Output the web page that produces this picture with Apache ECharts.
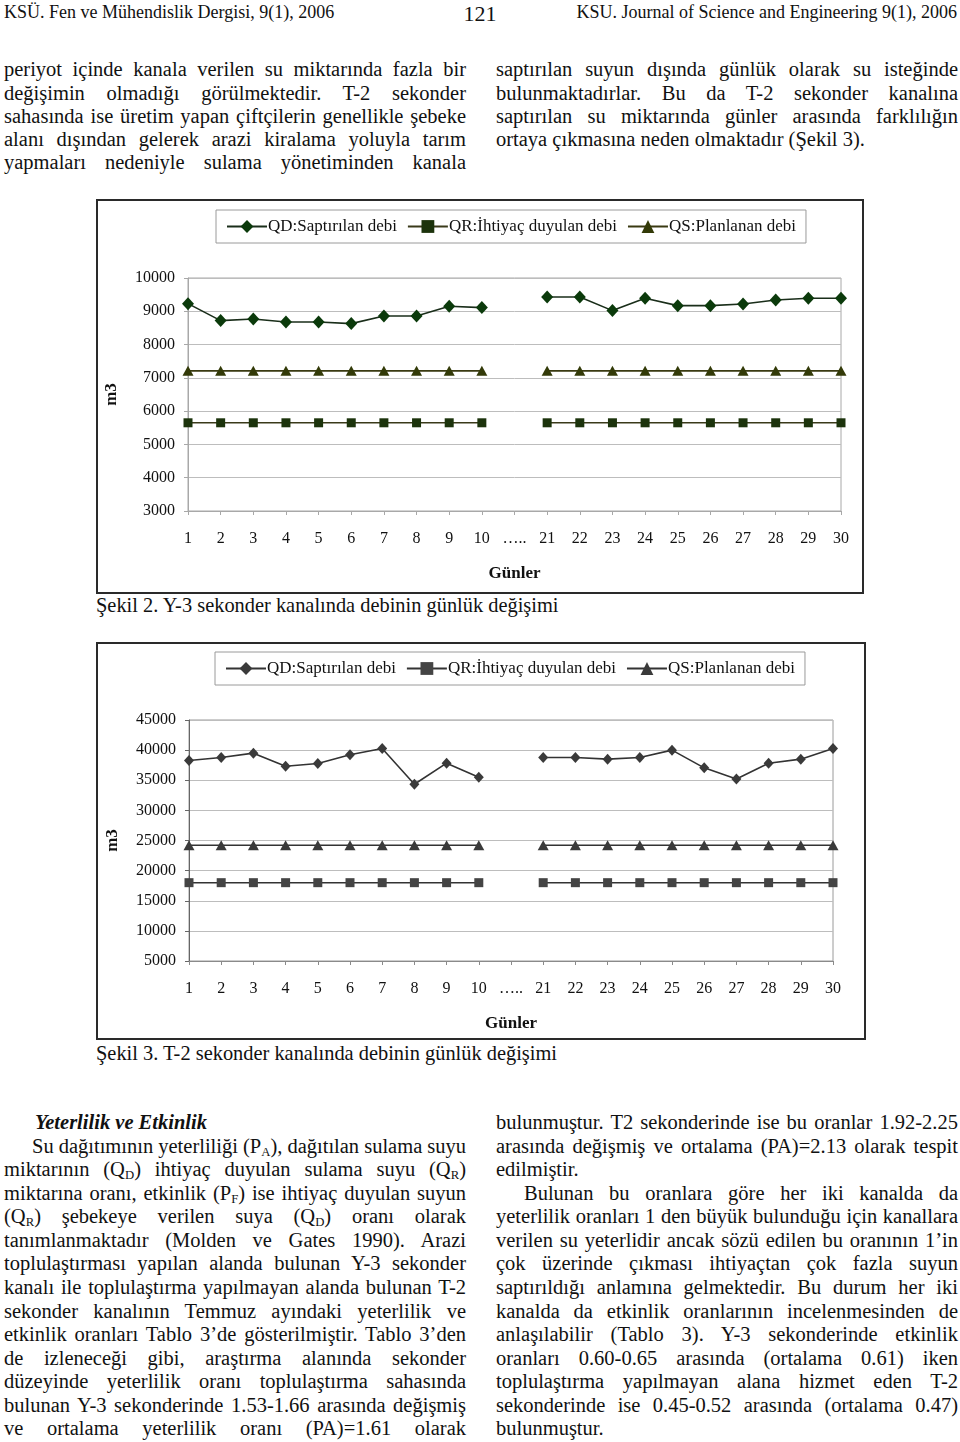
<!DOCTYPE html>
<html>
<head>
<meta charset="utf-8">
<script src="https://cdn.jsdelivr.net/npm/echarts@6/dist/echarts.min.js"></script>
<style>
  html, body { margin:0; padding:0; background:#fff; }
  body { width:960px; height:1442px; position:relative; overflow:hidden;
         font-family:'Liberation Serif','Times New Roman',serif; color:#111; }
  .ln { position:absolute; white-space:nowrap; font-size:20.5px; line-height:23.5px; }
  .ln sub { font-size:0.62em; vertical-align:-0.25em; line-height:0; }
  .hd { position:absolute; white-space:nowrap; font-size:18px; line-height:22px; }
  .frame { position:absolute; border:2px solid #2a2a2a; box-sizing:border-box; }
  .chart { position:absolute; }
  .cap { position:absolute; white-space:nowrap; font-size:20.4px; line-height:24px; }
</style>
</head>
<body>
<div class="hd" style="left:4px;top:1px;">KSÜ. Fen ve Mühendislik Dergisi, 9(1), 2006</div>
<div class="hd" style="left:440px;width:80px;text-align:center;top:1px;font-size:22px;line-height:26px;">121</div>
<div class="hd" style="right:3px;top:1px;">KSU. Journal of Science and Engineering 9(1), 2006</div>

<div id="text"></div>

<div class="frame" style="left:96px;top:199px;width:768px;height:395px;"></div>
<div id="c1" class="chart" style="left:98px;top:201px;width:764px;height:391px;"></div>
<div class="cap" style="left:96px;top:593px;">Şekil 2. Y-3 sekonder kanalında debinin günlük değişimi</div>

<div class="frame" style="left:96px;top:642px;width:770px;height:398px;"></div>
<div id="c2" class="chart" style="left:98px;top:644px;width:766px;height:394px;"></div>
<div class="cap" style="left:96px;top:1041px;">Şekil 3. T-2 sekonder kanalında debinin günlük değişimi</div>

<script>
// ---------------- DATA ----------------
const categories = ['1','2','3','4','5','6','7','8','9','10','…..','21','22','23','24','25','26','27','28','29','30'];
const seriesNames = ['QD:Saptırılan debi', 'QR:İhtiyaç duyulan debi', 'QS:Planlanan debi'];

// Şekil 2 (Y-3)
const qd1 = [9230, 8720, 8770, 8680, 8680, 8630, 8860, 8860, 9150, 9110, null, 9430, 9430, 9020, 9390, 9170, 9170, 9220, 9340, 9390, 9390];
const qr1 = [5650, 5650, 5650, 5650, 5650, 5650, 5650, 5650, 5650, 5650, null, 5650, 5650, 5650, 5650, 5650, 5650, 5650, 5650, 5650, 5650];
const qs1 = [7210, 7210, 7210, 7210, 7210, 7210, 7210, 7210, 7210, 7210, null, 7210, 7210, 7210, 7210, 7210, 7210, 7210, 7210, 7210, 7210];
const yTicks1 = { min: 3000, max: 10000, interval: 1000 };

// Şekil 3 (T-2)
const qd2 = [38280, 38780, 39500, 37330, 37780, 39220, 40280, 34330, 37830, 35500, null, 38780, 38780, 38500, 38780, 40000, 37060, 35220, 37830, 38500, 40280];
const qr2 = [18000, 18000, 18000, 18000, 18000, 18000, 18000, 18000, 18000, 18000, null, 18000, 18000, 18000, 18000, 18000, 18000, 18000, 18000, 18000, 18000];
const qs2 = [24220, 24220, 24220, 24220, 24220, 24220, 24220, 24220, 24220, 24220, null, 24220, 24220, 24220, 24220, 24220, 24220, 24220, 24220, 24220, 24220];
const yTicks2 = { min: 5000, max: 45000, interval: 5000 };

// ---------------- TEXT ----------------
const topLeft = [
  'periyot içinde kanala verilen su miktarında fazla bir',
  'değişimin olmadığı görülmektedir. T-2 sekonder',
  'sahasında ise üretim yapan çiftçilerin genellikle şebeke',
  'alanı dışından gelerek arazi kiralama yoluyla tarım',
  'yapmaları nedeniyle sulama yönetiminden kanala'
];
const topRight = [
  'saptırılan suyun dışında günlük olarak su isteğinde',
  'bulunmaktadırlar. Bu da T-2 sekonder kanalına',
  'saptırılan su miktarında günler arasında farklılığın',
  '!ortaya çıkmasına neden olmaktadır (Şekil 3).'
];
const botLeft = [
  '#<b><i>Yeterlilik ve Etkinlik</i></b>',
  '>Su dağıtımının yeterliliği (P<sub>A</sub>), dağıtılan sulama suyu',
  'miktarının (Q<sub>D</sub>) ihtiyaç duyulan sulama suyu (Q<sub>R</sub>)',
  'miktarına oranı, etkinlik (P<sub>F</sub>) ise ihtiyaç duyulan suyun',
  '(Q<sub>R</sub>) şebekeye verilen suya (Q<sub>D</sub>) oranı olarak',
  'tanımlanmaktadır (Molden ve Gates 1990). Arazi',
  'toplulaştırması yapılan alanda bulunan Y-3 sekonder',
  'kanalı ile toplulaştırma yapılmayan alanda bulunan T-2',
  'sekonder kanalının Temmuz ayındaki yeterlilik ve',
  'etkinlik oranları Tablo 3’de gösterilmiştir. Tablo 3’den',
  'de izleneceği gibi, araştırma alanında sekonder',
  'düzeyinde yeterlilik oranı toplulaştırma sahasında',
  'bulunan Y-3 sekonderinde 1.53-1.66 arasında değişmiş',
  've ortalama yeterlilik oranı (PA)=1.61 olarak'
];
const botRight = [
  'bulunmuştur. T2 sekonderinde ise bu oranlar 1.92-2.25',
  'arasında değişmiş ve ortalama (PA)=2.13 olarak tespit',
  '!edilmiştir.',
  '>Bulunan bu oranlara göre her iki kanalda da',
  'yeterlilik oranları 1 den büyük bulunduğu için kanallara',
  'verilen su yeterlidir ancak sözü edilen bu oranının 1’in',
  'çok üzerinde çıkması ihtiyaçtan çok fazla suyun',
  'saptırıldığı anlamına gelmektedir. Bu durum her iki',
  'kanalda da etkinlik oranlarının incelenmesinden de',
  'anlaşılabilir (Tablo 3). Y-3 sekonderinde etkinlik',
  'oranları 0.60-0.65 arasında (ortalama 0.61) iken',
  'toplulaştırma yapılmayan alana hizmet eden T-2',
  'sekonderinde ise 0.45-0.52 arasında (ortalama 0.47)',
  '!bulunmuştur.'
];

function placeColumn(lines, x, width, firstCenter, step) {
  const host = document.getElementById('text');
  lines.forEach((raw, i) => {
    let html = raw, justify = true, indent = 0;
    if (html[0] === '!') { html = html.slice(1); justify = false; }
    else if (html[0] === '#') { html = html.slice(1); justify = false; indent = 31; }
    else if (html[0] === '>') { html = html.slice(1); indent = 28; }
    const d = document.createElement('div');
    d.className = 'ln';
    d.innerHTML = html;
    d.style.left = (x + indent) + 'px';
    d.style.top = (firstCenter + i * step - 11.75) + 'px';
    host.appendChild(d);
    if (justify) {
      const target = width - indent;
      const natural = d.getBoundingClientRect().width;
      const spaces = (d.textContent.match(/ /g) || []).length;
      if (spaces > 0) d.style.wordSpacing = ((target - natural) / spaces) + 'px';
    }
  });
}
placeColumn(topLeft, 4, 462, 70, 23.3);
placeColumn(topRight, 496, 462, 70, 23.3);
placeColumn(botLeft, 4, 462, 1123, 23.54);
placeColumn(botRight, 496, 462, 1123, 23.54);

// ---------------- CHARTS ----------------
const FONT = "'Liberation Serif','Times New Roman',serif";

function buildOption(cfg) {
  return {
    animation: false,
    legend: {
      data: seriesNames,
      left: cfg.legendLeft, top: cfg.legendTop,
      padding: [8, 10, 8, 10],
      itemGap: 10, itemWidth: 40, itemHeight: 16,
      borderColor: '#9a9a9a', borderWidth: 1,
      textStyle: { fontFamily: FONT, fontSize: 17, color: '#111', padding: [0, 0, 0, -4] }
    },
    grid: {
      left: cfg.grid.left, top: cfg.grid.top, width: cfg.grid.width, height: cfg.grid.height,
      outerBoundsMode: 'none', containLabel: false,
      show: true, borderColor: cfg.borderColor, borderWidth: 1, backgroundColor: 'transparent'
    },
    xAxis: {
      type: 'category', data: categories, boundaryGap: false,
      name: 'Günler', nameLocation: 'middle', nameGap: 54,
      nameTextStyle: { fontFamily: FONT, fontSize: 17, fontWeight: 'bold', color: '#111' },
      axisLine: { lineStyle: { color: cfg.axisColor, width: 1 } },
      axisTick: { show: true, length: 4, lineStyle: { color: cfg.axisColor } },
      axisLabel: { fontFamily: FONT, fontSize: 16, color: '#111', margin: 20, interval: 0 },
      splitLine: { show: false }
    },
    yAxis: {
      type: 'value', min: cfg.y.min, max: cfg.y.max, interval: cfg.y.interval,
      name: 'm3', nameLocation: 'middle', nameGap: 68,
      nameTextStyle: { fontFamily: FONT, fontSize: 17, fontWeight: 'bold', color: '#111' },
      axisLine: { show: true, lineStyle: { color: cfg.yAxisColor, width: 1 } },
      axisTick: { show: true, length: 4, lineStyle: { color: cfg.yAxisColor } },
      axisLabel: { fontFamily: FONT, fontSize: 16, color: '#111', margin: 13,
                   formatter: v => String(v) },
      splitLine: { show: true, lineStyle: { color: '#bdbdbd', width: 1 } }
    },
    series: [
      { name: seriesNames[0], type: 'line', data: cfg.qd, connectNulls: false,
        symbol: 'diamond', symbolSize: cfg.dSize, showAllSymbol: true,
        itemStyle: { color: cfg.c[0] }, lineStyle: { color: cfg.l[0], width: 1.6 } },
      { name: seriesNames[1], type: 'line', data: cfg.qr, connectNulls: false,
        symbol: 'rect', symbolSize: cfg.sSize, showAllSymbol: true,
        itemStyle: { color: cfg.c[1] }, lineStyle: { color: cfg.l[1], width: 1.6 } },
      { name: seriesNames[2], type: 'line', data: cfg.qs, connectNulls: false,
        symbol: 'triangle', symbolSize: cfg.tSize, showAllSymbol: true,
        itemStyle: { color: cfg.c[2] }, lineStyle: { color: cfg.l[2], width: 1.6 } }
    ]
  };
}

const chart1 = echarts.init(document.getElementById('c1'), null, { renderer: 'canvas' });
chart1.setOption(buildOption({
  legendLeft: 118, legendTop: 9,
  grid: { left: 90, top: 77, width: 653, height: 233 },
  borderColor: '#a8a8a8', axisColor: '#a8a8a8', yAxisColor: '#a8a8a8',
  y: yTicks1, qd: qd1, qr: qr1, qs: qs1,
  dSize: [12, 13], sSize: [9, 9], tSize: [11, 10],
  c: ['#0b3a0b', '#1c330c', '#333a08'], l: ['#1a2e1a', '#3a3a1a', '#3a3a12']
}));

const chart2 = echarts.init(document.getElementById('c2'), null, { renderer: 'canvas' });
chart2.setOption(buildOption({
  legendLeft: 117, legendTop: 8,
  grid: { left: 91, top: 76, width: 644, height: 241 },
  borderColor: '#9a9a9a', axisColor: '#8a8a8a', yAxisColor: '#666666',
  y: yTicks2, qd: qd2, qr: qr2, qs: qs2,
  dSize: [10, 11], sSize: [9, 9], tSize: [11, 10],
  c: ['#3a3a3a', '#444444', '#3a3a3a'], l: ['#333333', '#333333', '#333333']
}));
</script>
</body>
</html>
